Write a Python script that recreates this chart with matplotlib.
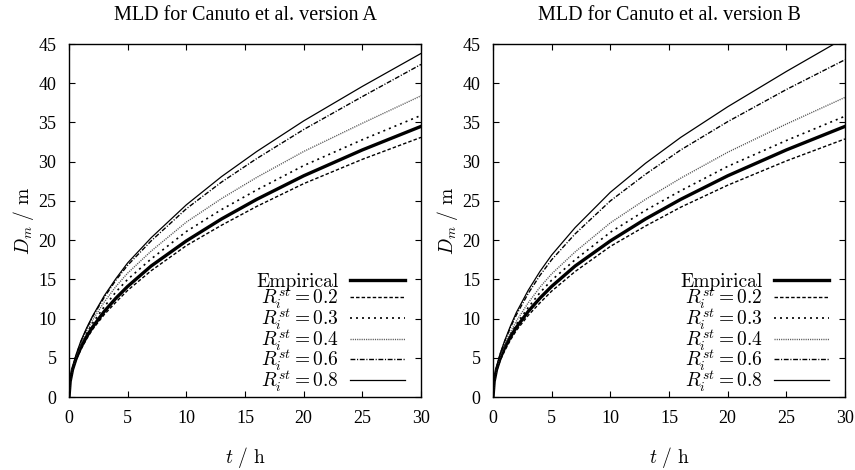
"""Mixed layer depth vs time for Canuto et al. closures A and B."""

import matplotlib
matplotlib.use("Agg")
import matplotlib.pyplot as plt

plt.rcParams["mathtext.fontset"] = "cm"
plt.rcParams["font.family"] = ["Liberation Serif", "DejaVu Serif"]

t = [0, 0.1, 0.3, 0.6, 1, 1.5, 2, 3, 4, 5, 7, 10, 13, 16, 20, 25, 30]

empirical = [0, 2.0, 3.5, 4.9, 6.3, 7.7, 8.9, 10.9, 12.6, 14.1, 16.7, 19.9, 22.7, 25.2, 28.2, 31.5, 34.5]

# version A
a_02 = [0, 1.9, 3.4, 4.7, 6.0, 7.4, 8.6, 10.5, 12.1, 13.6, 16.1, 19.3, 21.9, 24.3, 27.2, 30.3, 33.1]
a_03 = [0, 2.0, 3.6, 5.1, 6.6, 8.1, 9.4, 11.5, 13.4, 15.0, 17.6, 21.1, 23.9, 26.4, 29.5, 32.8, 35.9]
a_04 = [0, 2.0, 3.7, 5.2, 6.8, 8.4, 9.8, 12.1, 14.1, 15.8, 18.6, 22.3, 25.3, 28.0, 31.3, 34.9, 38.4]
a_06 = [0, 2.0, 3.7, 5.3, 7.0, 8.7, 10.2, 12.7, 14.9, 16.8, 19.9, 24.0, 27.4, 30.4, 34.1, 38.3, 42.4]
a_08 = [0, 2.0, 3.7, 5.4, 7.1, 8.8, 10.3, 12.9, 15.1, 17.1, 20.3, 24.5, 28.1, 31.3, 35.2, 39.6, 43.8]

# version B
b_02 = [0, 1.9, 3.3, 4.6, 5.9, 7.3, 8.5, 10.4, 12.0, 13.5, 16.0, 19.2, 21.8, 24.2, 27.0, 30.1, 32.9]
b_03 = [0, 2.0, 3.6, 5.0, 6.5, 8.0, 9.3, 11.4, 13.3, 14.9, 17.5, 21.0, 23.8, 26.3, 29.4, 32.7, 35.8]
b_04 = [0, 2.0, 3.7, 5.2, 6.7, 8.3, 9.7, 12.0, 14.0, 15.7, 18.5, 22.2, 25.2, 27.9, 31.2, 34.8, 38.2]
b_06 = [0, 2.0, 3.7, 5.4, 7.1, 8.9, 10.5, 13.2, 15.5, 17.5, 20.8, 25.0, 28.4, 31.5, 35.1, 39.2, 43.0]
b_08 = [0, 2.0, 3.8, 5.5, 7.2, 9.1, 10.8, 13.6, 16.0, 18.1, 21.6, 26.1, 29.8, 33.1, 37.0, 41.5, 45.8]

labels = ["Empirical", r"$R_i^{st}=0.2$", r"$R_i^{st}=0.3$",
          r"$R_i^{st}=0.4$", r"$R_i^{st}=0.6$", r"$R_i^{st}=0.8$"]

styles = [
    dict(color="black", lw=2.4, ls="-"),
    dict(color="black", lw=1.0, ls=(0, (2.5, 1.5))),
    dict(color="black", lw=1.2, ls=(0, (1.2, 2.4))),
    dict(color="#555555", lw=1.0, ls=(0, (0.8, 0.8))),
    dict(color="black", lw=1.0, ls=(0, (3.5, 1.2, 0.8, 1.2))),
    dict(color="black", lw=0.9, ls="-"),
]

fig = plt.figure(figsize=(8.55, 4.70), dpi=100)
ax1 = fig.add_axes([0.0807, 0.1553, 0.4117, 0.751])
ax2 = fig.add_axes([0.5766, 0.1553, 0.4117, 0.751])

panels = [
    (ax1, "MLD for Canuto et al. version A", [a_02, a_03, a_04, a_06, a_08]),
    (ax2, "MLD for Canuto et al. version B", [b_02, b_03, b_04, b_06, b_08]),
]

for ax, title, series in panels:
    for ys, lab, st in zip([empirical] + series, labels, styles):
        ax.plot(t, ys, label=lab, **st)
    ax.set_xlim(0, 30)
    ax.set_ylim(0, 45)
    ax.set_xticks(range(0, 31, 5))
    ax.set_yticks(range(0, 46, 5))
    ax.tick_params(direction="in", top=True, right=True, length=4,
                   width=0.8, labelsize=13, pad=9)
    for s in ax.spines.values():
        s.set_linewidth(1.0)
    ax.set_title(title, fontsize=14.5, pad=17)
    ax.set_xlabel(r"$t\ /\ \mathrm{h}$", fontsize=14, labelpad=13)
    ax.set_ylabel(r"$D_m\ /\ \mathrm{m}$", fontsize=14, labelpad=2)

    leg = ax.legend(loc="lower right", bbox_to_anchor=(1.0, -0.035),
                    frameon=False, markerfirst=False,
                    fontsize=14, handlelength=2.85, handletextpad=0.6,
                    labelspacing=-0.25, borderpad=0.3, borderaxespad=0.5)
    for col in leg._legend_handle_box.get_children():
        col.align = "right"
    for txt in leg.get_texts():
        if txt.get_text() == "Empirical":
            txt.set_fontfamily("cmr10")

fig.savefig("out.png", dpi=100)
